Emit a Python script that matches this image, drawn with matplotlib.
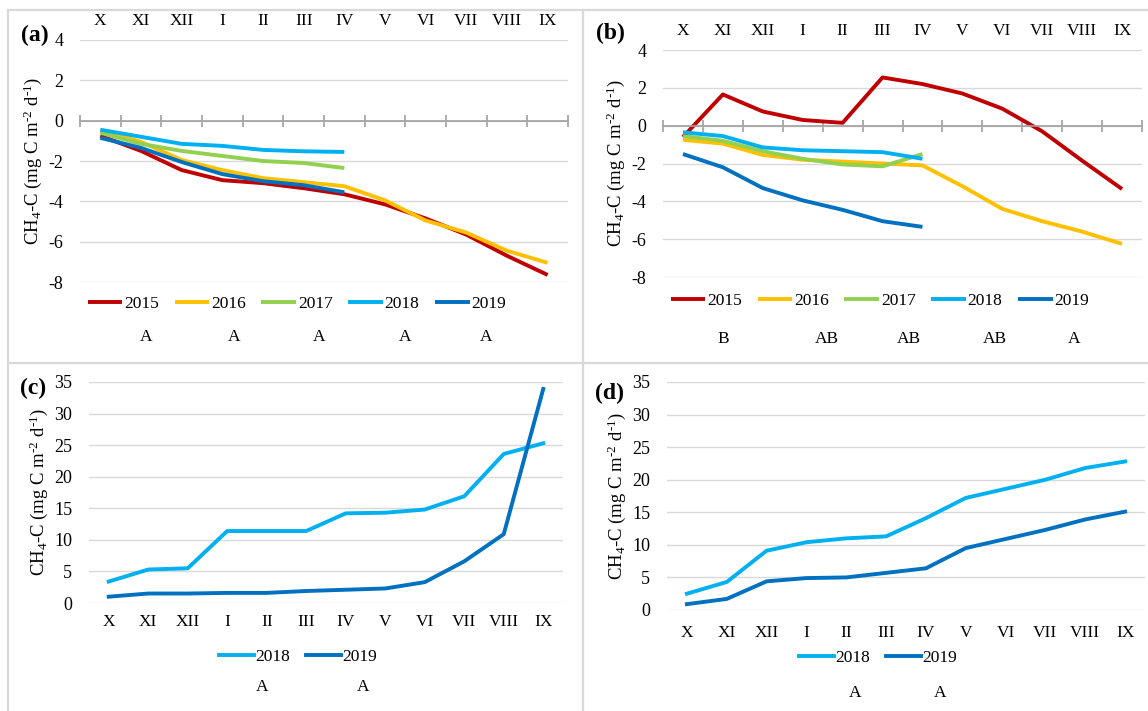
import numpy as np
import matplotlib
matplotlib.use("Agg")
import matplotlib.pyplot as plt
from matplotlib.lines import Line2D

plt.rcParams['font.family'] = ['Liberation Serif', 'DejaVu Serif']
plt.rcParams['mathtext.fontset'] = 'custom'
plt.rcParams['mathtext.rm'] = 'Liberation Serif'
plt.rcParams['mathtext.it'] = 'Liberation Serif:italic'
plt.rcParams['mathtext.default'] = 'regular'
plt.rcParams['axes.unicode_minus'] = False

months = ["X", "XI", "XII", "I", "II", "III", "IV", "V", "VI", "VII", "VIII", "IX"]
years = ["2015", "2016", "2017", "2018", "2019"]
colors = {"2015": "#C00000", "2016": "#FFC000", "2017": "#92D050",
          "2018": "#00B0F0", "2019": "#0070C0"}

# Panel (a)
a_2015 = [-0.75, -1.5, -2.45, -2.95, -3.1, -3.35, -3.65, -4.15, -4.85, -5.65, -6.7, -7.65]
a_2016 = [-0.5, -1.05, -1.95, -2.45, -2.85, -3.05, -3.25, -3.95, -4.95, -5.55, -6.45, -7.05]
a_2017 = [-0.6, -1.15, -1.5, -1.75, -2.0, -2.1, -2.35]
a_2018 = [-0.45, -0.8, -1.15, -1.25, -1.45, -1.52, -1.55]
a_2019 = [-0.85, -1.35, -2.05, -2.65, -3.0, -3.2, -3.55]

# Panel (b)
b_2015 = [-0.6, 1.65, 0.75, 0.3, 0.15, 2.55, 2.2, 1.7, 0.9, -0.3, -1.85, -3.35]
b_2016 = [-0.75, -0.95, -1.55, -1.8, -1.9, -2.0, -2.1, -3.2, -4.4, -5.05, -5.6, -6.25]
b_2017 = [-0.55, -0.8, -1.35, -1.75, -2.05, -2.15, -1.5]
b_2018 = [-0.35, -0.55, -1.15, -1.3, -1.35, -1.4, -1.75]
b_2019 = [-1.5, -2.2, -3.3, -3.95, -4.45, -5.05, -5.35]

# Panel (c)
c_2018 = [3.4, 5.3, 5.5, 11.4, 11.4, 11.4, 14.2, 14.3, 14.8, 16.9, 23.6, 25.3]
c_2019 = [1.0, 1.5, 1.5, 1.6, 1.6, 1.9, 2.1, 2.3, 3.3, 6.6, 10.9, 33.9]

# Panel (d)
d_2018 = [2.5, 4.3, 9.1, 10.4, 11.0, 11.3, 14.1, 17.2, 18.6, 20.0, 21.8, 22.8]
d_2019 = [0.9, 1.7, 4.4, 4.9, 5.0, 5.7, 6.4, 9.5, 10.9, 12.3, 13.9, 15.1]

letters_a = ["A", "A", "A", "A", "A"]
letters_b = ["B", "AB", "AB", "AB", "A"]
letters_c = ["A", "A"]
letters_d = ["A", "A"]

W, H = 1148, 711
fig = plt.figure(figsize=(W / 100, H / 100), dpi=100)

def rect(left, right, top, bottom):
    return [left / W, 1 - bottom / H, (right - left) / W, (bottom - top) / H]

ylabel = r'CH$_4$-C (mg C m$^{\text{-2}}$ d$^{\text{-1}}$)'
GRID = "#D9D9D9"
AXC = "#A0A0A0"
FS = 12.5
YFS = 13.5

def style_common(ax, yticks):
    ax.set_xlim(-0.5, 11.5)
    ax.set_ylim(min(yticks), max(yticks))
    ax.set_yticks(yticks)
    ax.set_yticklabels([str(v) for v in yticks])
    ax.tick_params(axis='y', length=0, pad=12, labelsize=FS + 0.5)
    ax.yaxis.grid(True, color=GRID, lw=1.0)
    ax.set_axisbelow(True)
    for s in ['top', 'left', 'right']:
        ax.spines[s].set_visible(False)
    ax.set_facecolor('none')

def neg_panel(rc, series, lab_top):
    ax = fig.add_axes(rc)
    style_common(ax, [-8, -6, -4, -2, 0, 2, 4])
    ax.spines['bottom'].set_position(('data', 0))
    ax.spines['bottom'].set_color(AXC)
    ax.spines['bottom'].set_linewidth(1.2)
    ax.set_xticks([])
    ax.set_xticks(np.arange(-0.5, 12, 1), minor=True)
    ax.tick_params(axis='x', which='minor', direction='inout', length=9,
                   color=AXC, width=1.2, labelbottom=False)
    sec = ax.secondary_xaxis('top')
    sec.set_xticks(range(len(months)))
    sec.set_xticklabels(months)
    sec.tick_params(length=0, pad=lab_top, labelsize=FS)
    sec.spines['top'].set_visible(False)
    handles = []
    for yr, vals in zip(years, series):
        h, = ax.plot(range(len(vals)), vals, color=colors[yr], lw=2.8,
                     solid_joinstyle='round', solid_capstyle='butt', label=yr)
        handles.append(h)
    ax.set_ylabel(ylabel, fontsize=YFS, labelpad=3)
    return ax, handles

def pos_panel(rc, series, yrs, lab_pad):
    ax = fig.add_axes(rc)
    style_common(ax, [0, 5, 10, 15, 20, 25, 30, 35])
    ax.spines['bottom'].set_visible(False)
    ax.set_xticks(range(len(months)))
    ax.set_xticklabels(months)
    ax.tick_params(axis='x', length=0, pad=lab_pad, labelsize=FS)
    handles = []
    for yr, vals in zip(yrs, series):
        h, = ax.plot(range(len(vals)), vals, color=colors[yr], lw=2.8,
                     solid_joinstyle='round', label=yr)
        handles.append(h)
    ax.set_ylabel(ylabel, fontsize=YFS, labelpad=3)
    return ax, handles

axa, ha = neg_panel(rect(80, 568, 40, 282), [a_2015, a_2016, a_2017, a_2018, a_2019], 8)
axb, hb = neg_panel(rect(663, 1142, 50, 277), [b_2015, b_2016, b_2017, b_2018, b_2019], 8)
axc, hc = pos_panel(rect(89, 563, 382, 603), [c_2018, c_2019], ["2018", "2019"], 8)
axd, hd = pos_panel(rect(667, 1145, 382, 610), [d_2018, d_2019], ["2018", "2019"], 11)

def legend(handles, cx, cy):
    fig.legend(handles=handles, loc='center', bbox_to_anchor=(cx / W, 1 - cy / H),
               ncol=len(handles), frameon=False, fontsize=FS, handlelength=2.0,
               handletextpad=0.1, columnspacing=0.9, borderaxespad=0)

legend(ha, 297, 304)
legend(hb, 880, 301)
legend(hc, 298, 657)
legend(hd, 878, 658)

def put_letters(labels, xs, y):
    for t, x in zip(labels, xs):
        fig.text(x / W, 1 - y / H, t, ha='center', va='center', fontsize=FS)

put_letters(letters_a, [146, 234, 319, 405, 486], 337)
put_letters(letters_b, [723, 827, 909, 995, 1074], 339)
put_letters(letters_c, [262, 363], 687)
put_letters(letters_d, [855, 940], 693)

for t, x, y in [("(a)", 35, 35), ("(b)", 610, 33), ("(c)", 33, 388), ("(d)", 610, 393)]:
    fig.text(x / W, 1 - y / H, t, ha='center', va='center', fontsize=17, fontweight='bold')

# panel borders
BC = "#D9D9D9"
def fl(x0, y0, x1, y1):
    fig.add_artist(Line2D([x0 / W, x1 / W], [1 - y0 / H, 1 - y1 / H], color=BC, lw=1.6))
fl(8, 10, 1148, 10)
fl(8, 10, 8, 711)
fl(583, 10, 583, 711)
fl(8, 363, 1148, 363)

fig.savefig("out.png", dpi=100, facecolor='white')
